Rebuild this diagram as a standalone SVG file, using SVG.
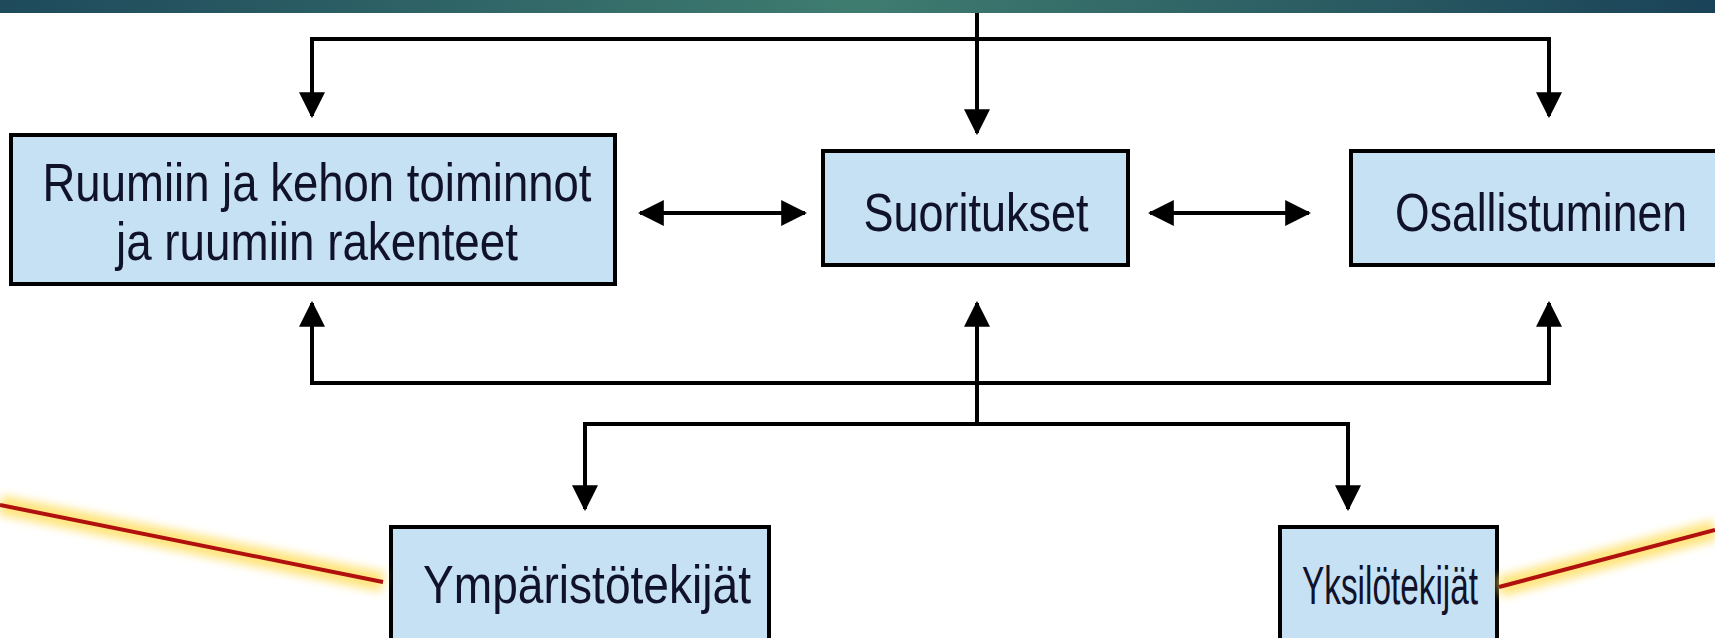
<svg xmlns="http://www.w3.org/2000/svg" width="1715" height="638" viewBox="0 0 1715 638">
<defs>
<linearGradient id="bar" x1="0" y1="0" x2="1" y2="0">
<stop offset="0" stop-color="#1e4a5c"/>
<stop offset="0.5" stop-color="#3f7c70"/>
<stop offset="1" stop-color="#1a4258"/>
</linearGradient>
<marker id="ah" markerUnits="userSpaceOnUse" markerWidth="26" markerHeight="26" refX="22" refY="12" orient="auto-start-reverse" viewBox="0 0 24 24">
<path d="M0,0 L24,12 L0,24 Z" fill="#000"/>
</marker>
<filter id="glow" x="-10%" y="-60%" width="120%" height="220%">
<feGaussianBlur stdDeviation="5"/>
</filter>
<style>
.box{fill:#c6e0f4;stroke:#000;stroke-width:4}
.lbl{font-family:"Liberation Sans",Arial,sans-serif;font-size:53px;fill:#10122a;text-anchor:middle}
.con{fill:none;stroke:#000;stroke-width:4}
.red{stroke:#b0100e;stroke-width:4;fill:none}
.halo{stroke:#ffe066;stroke-width:20;fill:none;opacity:0.85;filter:url(#glow)}
</style>
</defs>
<rect x="0" y="0" width="1715" height="13" fill="url(#bar)"/>
<g id="connectors">
<path class="con" d="M977,13 V133" marker-end="url(#ah)"/>
<path class="con" d="M312,116 V39 H1549 V116" marker-start="url(#ah)" marker-end="url(#ah)"/>
<path class="con" d="M640,213 H805" marker-start="url(#ah)" marker-end="url(#ah)"/>
<path class="con" d="M1150,213 H1309" marker-start="url(#ah)" marker-end="url(#ah)"/>
<path class="con" d="M312,303 V383 H1549 V303" marker-start="url(#ah)" marker-end="url(#ah)"/>
<path class="con" d="M977,303 V424" marker-start="url(#ah)"/>
<path class="con" d="M585,509 V424 H1348 V509" marker-start="url(#ah)" marker-end="url(#ah)"/>
</g>
<g id="node-ruumiin">
<rect class="box" x="11" y="135" width="604" height="149"/>
<text class="lbl" x="317" y="201" textLength="549" lengthAdjust="spacingAndGlyphs">Ruumiin ja kehon toiminnot</text>
<text class="lbl" x="317" y="260" textLength="402" lengthAdjust="spacingAndGlyphs">ja ruumiin rakenteet</text>
</g>
<g id="node-suoritukset">
<rect class="box" x="823" y="151" width="305" height="114"/>
<text class="lbl" x="976" y="231" textLength="225" lengthAdjust="spacingAndGlyphs">Suoritukset</text>
</g>
<g id="node-osallistuminen">
<rect class="box" x="1351" y="151" width="370" height="114"/>
<text class="lbl" x="1541" y="231" textLength="292" lengthAdjust="spacingAndGlyphs">Osallistuminen</text>
</g>
<g id="node-ymparisto">
<rect class="box" x="391" y="527" width="378" height="120"/>
<text class="lbl" x="587" y="603" textLength="328" lengthAdjust="spacingAndGlyphs">Ympäristötekijät</text>
</g>
<g id="node-yksilo">
<rect class="box" x="1280" y="527" width="217" height="120"/>
<text class="lbl" x="1390" y="604" textLength="176" lengthAdjust="spacingAndGlyphs">Yksilötekijät</text>
</g>
<g id="callouts">
<line class="halo" x1="0" y1="505" x2="383" y2="582"/>
<line class="red" x1="0" y1="505" x2="383" y2="582"/>
<line class="halo" x1="1499" y1="587" x2="1715" y2="530"/>
<line class="red" x1="1499" y1="587" x2="1715" y2="530"/>
</g>
</svg>
